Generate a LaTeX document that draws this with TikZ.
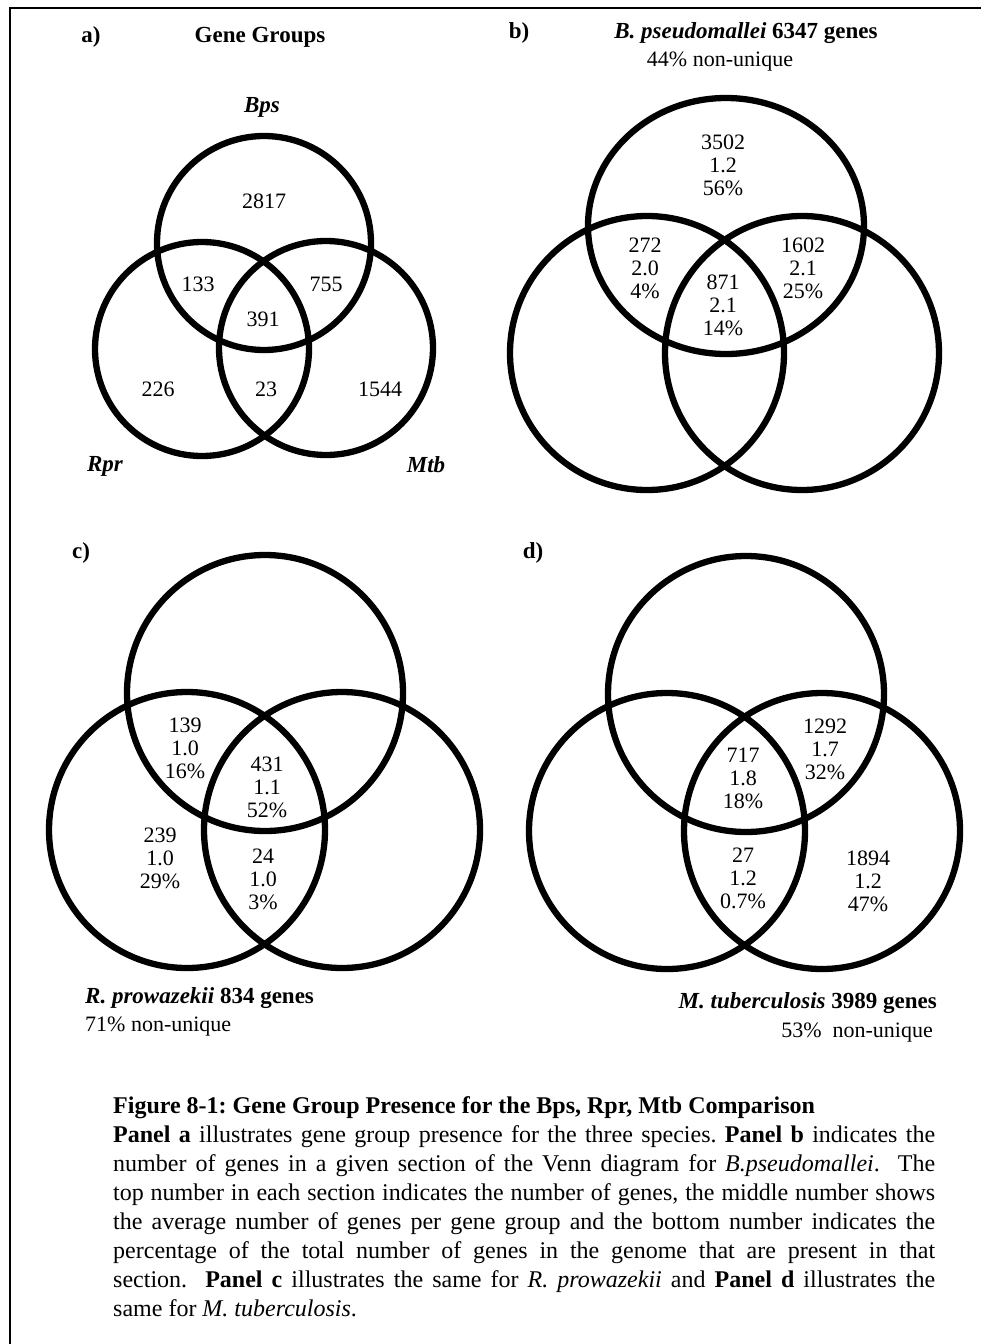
\documentclass[tikz,border=0pt]{standalone}
\usepackage{fontspec}
\setmainfont{Liberation Serif}
\frenchspacing
\begin{document}
\begin{tikzpicture}[x=1pt,y=-1pt,
  venn/.style={line width=6.3pt},
  num/.style={font=\fontsize{22}{23}\selectfont, align=center, inner sep=0pt},
  ttl/.style={font=\fontsize{23}{26}\selectfont\bfseries, inner sep=0pt},
  sub/.style={font=\fontsize{22}{26}\selectfont, inner sep=0pt},
  capline/.style={font=\fontsize{24}{29}\selectfont, inner sep=0pt, anchor=base west},
  frameline/.style={line width=2pt}]
\useasboundingbox (0,0) rectangle (981,1344);
\fill[white] (0,0) rectangle (981,1344);
% frame
\coordinate (tl) at (10,8);
\coordinate (tr) at (981,8);
\coordinate (bl) at (10,1344);
\draw[frameline] (tr) -- (tl) -- (bl);

% ---------------- panel a
\draw[venn] (264,243) circle [radius=107];
\draw[venn] (202,349) circle [radius=107];
\draw[venn] (326,348) circle [radius=107];
\node[ttl] (alab) at (91,37) {a)};
\node[ttl] (atitle) at (260,37) {Gene Groups};
\node[ttl] (bps) at (262,107) {\itshape Bps};
\node[ttl] (rpr) at (105,466) {\itshape Rpr};
\node[ttl] (mtb) at (426,465) {\itshape Mtb};
\node[num] (a1) at (264,201) {2817};
\node[num] (a2) at (198,284) {133};
\node[num] (a3) at (326,284) {755};
\node[num] (a4) at (263,319) {391};
\node[num] (a5) at (158,389) {226};
\node[num] (a6) at (266,389) {23};
\node[num] (a7) at (380,389) {1544};

% ---------------- panel b
\draw[venn] (726,226) ellipse [x radius=138, y radius=128];
\draw[venn] (647,353) circle [radius=137];
\draw[venn] (802,353) circle [radius=137];
\node[ttl] (blab) at (519,33) {b)};
\node[ttl] (btitle) at (746,33) {\textit{B. pseudomallei} 6347 genes};
\node[sub] (bsub) at (720,62) {44\% non-unique};
\node[num] (b1) at (723,165) {3502\\1.2\\56\%};
\node[num] (b2) at (645,268) {272\\2.0\\4\%};
\node[num] (b3) at (723,305) {871\\2.1\\14\%};
\node[num] (b4) at (803,268) {1602\\2.1\\25\%};

% ---------------- panel c
\draw[venn] (265,693) circle [radius=138];
\draw[venn] (187,830) circle [radius=138];
\draw[venn] (342,830) circle [radius=138];
\node[ttl] (clab) at (81,553) {c)};
\node[num] (c1) at (185,748) {139\\1.0\\16\%};
\node[num] (c2) at (267,787) {431\\1.1\\52\%};
\node[num] (c3) at (160,858) {239\\1.0\\29\%};
\node[num] (c4) at (263,879) {24\\1.0\\3\%};
\node[ttl, anchor=west] (ctitle) at (85,998) {\textit{R. prowazekii} 834 genes};
\node[sub, anchor=west] (csub) at (85,1027) {71\% non-unique};

% ---------------- panel d
\draw[venn] (746,694) circle [radius=138];
\draw[venn] (667,831) circle [radius=138];
\draw[venn] (822,831) circle [radius=138];
\node[ttl] (dlab) at (533,553) {d)};
\node[num] (d1) at (825,749) {1292\\1.7\\32\%};
\node[num] (d2) at (743,778) {717\\1.8\\18\%};
\node[num] (d3) at (743,878) {27\\1.2\\0.7\%};
\node[num] (d4) at (868,881) {1894\\1.2\\47\%};
\node[ttl, anchor=east] (dtitle) at (937,1003) {\textit{M. tuberculosis} 3989 genes};
\node[sub, anchor=east] (dsub) at (933,1033) {53\%~ non-unique};

% ---------------- caption
\node[capline] (l1) at (113,1113) {\bfseries Figure 8-1: Gene Group Presence for the Bps, Rpr, Mtb Comparison};
\node[capline] (l2) at (113,1142) {\makebox[822pt][s]{\textbf{Panel a} illustrates gene group presence for the three species. \textbf{Panel b} indicates the}};
\node[capline] (l3) at (113,1171) {\makebox[822pt][s]{number of genes in a given section of the Venn diagram for \textit{B.pseudomallei}. \ The}};
\node[capline] (l4) at (113,1200) {\makebox[822pt][s]{top number in each section indicates the number of genes, the middle number shows}};
\node[capline] (l5) at (113,1229) {\makebox[822pt][s]{the average number of genes per gene group and the bottom number indicates the}};
\node[capline] (l6) at (113,1258) {\makebox[822pt][s]{percentage of the total number of genes in the genome that are present in that}};
\node[capline] (l7) at (113,1287) {\makebox[822pt][s]{section. \ \textbf{Panel c} illustrates the same for \textit{R. prowazekii} and \textbf{Panel d} illustrates the}};
\node[capline] (l8) at (113,1316) {same for \textit{M. tuberculosis}.};
\end{tikzpicture}
\end{document}
